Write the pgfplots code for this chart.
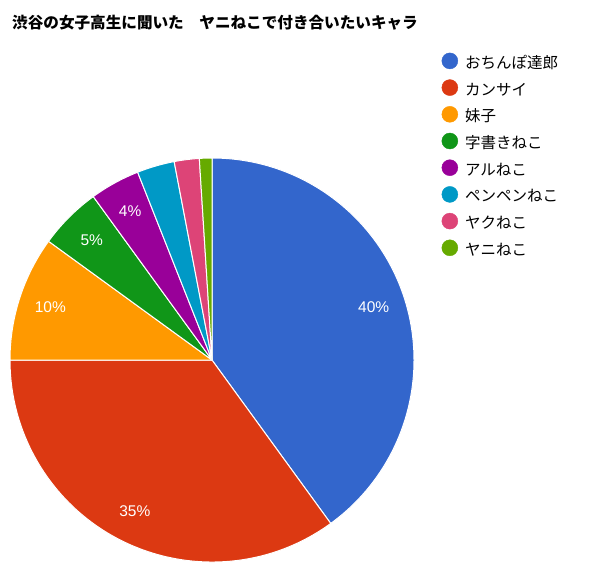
\documentclass[border=0pt]{standalone}
\usepackage{pgfplots}
\pgfplotsset{compat=1.18}
\usepackage{fontspec}
\setmainfont{Liberation Sans}
\newfontfamily\jp{Noto Sans CJK JP}
\definecolor{c1}{HTML}{3366CC}
\definecolor{c2}{HTML}{DC3912}
\definecolor{c3}{HTML}{FF9900}
\definecolor{c4}{HTML}{109618}
\definecolor{c5}{HTML}{990099}
\definecolor{c6}{HTML}{0099C6}
\definecolor{c7}{HTML}{DD4477}
\definecolor{c8}{HTML}{66AA00}
% start (cumulative %), value (%), colour
\newcommand\slice[3]{%
  \fill[#3, draw=white, line width=1pt, line join=round] (axis cs:0,0) --
    (axis cs:{202*cos(90-3.6*#1)},{202*sin(90-3.6*#1)})
    arc[start angle={90-3.6*#1}, end angle={90-3.6*(#1+#2)}, radius=202pt] -- cycle;}
\newcommand\pct[2]{%
  \node[text=white, font=\fontsize{15.5}{17}\selectfont] at
    (axis cs:{170*cos(90-3.6*(#1+#2/2))},{170*sin(90-3.6*(#1+#2/2))}) {#2\%};}
\begin{document}
\begin{tikzpicture}
\useasboundingbox (0,0) rectangle (596pt,-579pt);
\node[anchor=base west, inner sep=0pt, font=\jp\bfseries\fontsize{15.6}{18}\selectfont] at (12pt,-28pt) {渋谷の女子高生に聞いた　ヤニねこで付き合いたいキャラ};
\begin{axis}[
  hide axis, x=1pt, y=1pt,
  xmin=-202, xmax=202, ymin=-202, ymax=202,
  anchor=center, at={(212pt,-360pt)}, clip=false,
  legend image code/.code={\fill[#1] (0pt,3.5pt) circle (8pt);},
  legend cell align=left,
  legend style={at={(1.0605,1.2661)}, anchor=north west, draw=none, fill=none,
    font=\jp\fontsize{15.5}{18}\selectfont, row sep=8pt,
    nodes={inner sep=0pt, text height=11pt, text depth=3pt},
    column sep=7pt},
]
\slice{0}{40}{c1}
\slice{40}{35}{c2}
\slice{75}{10}{c3}
\slice{85}{5}{c4}
\slice{90}{4}{c5}
\slice{94}{3}{c6}
\slice{97}{2}{c7}
\slice{99}{1}{c8}
\pct{0}{40}
\pct{40}{35}
\pct{75}{10}
\pct{85}{5}
\pct{90}{4}
\addlegendimage{c1}\addlegendentry{おちんぽ達郎}
\addlegendimage{c2}\addlegendentry{カンサイ}
\addlegendimage{c3}\addlegendentry{妹子}
\addlegendimage{c4}\addlegendentry{字書きねこ}
\addlegendimage{c5}\addlegendentry{アルねこ}
\addlegendimage{c6}\addlegendentry{ペンペンねこ}
\addlegendimage{c7}\addlegendentry{ヤクねこ}
\addlegendimage{c8}\addlegendentry{ヤニねこ}
\end{axis}
\end{tikzpicture}
\end{document}
